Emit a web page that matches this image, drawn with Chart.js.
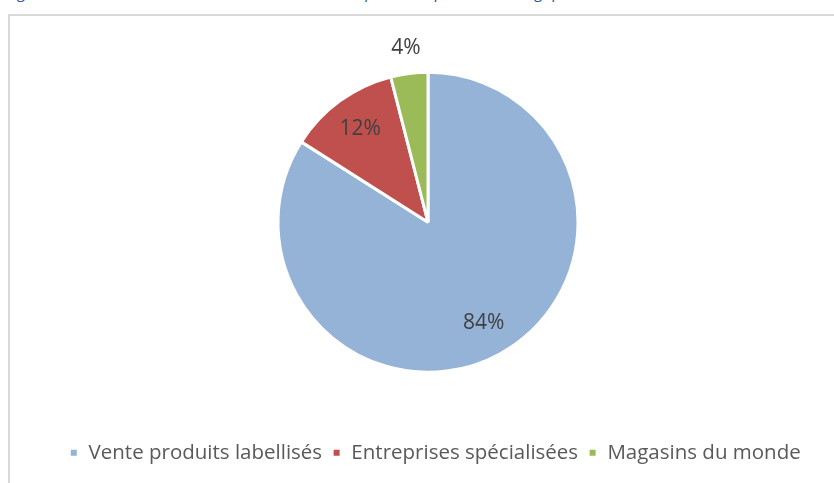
<!DOCTYPE html>
<html><head><meta charset="utf-8">
<script src="https://cdn.jsdelivr.net/npm/chart.js@4.4.1/dist/chart.umd.min.js"></script>
<style>
html,body{margin:0;padding:0;background:#fff;width:834px;height:483px;overflow:hidden;}
#caption{position:absolute;left:6px;top:-19px;font-family:"Open Sans",sans-serif;font-style:italic;font-size:16px;color:#2F5496;white-space:nowrap;}
#frame{position:absolute;left:8px;top:14px;width:900px;height:600px;border-left:2px solid #d9d9d9;border-top:2px solid #d9d9d9;}
#wrap{position:absolute;left:0;top:0;width:834px;height:483px;}
</style></head>
<body>
<div id="caption">Figure 10 : Part de marché des circuits de vente du produit équitable en Belgique en 2010</div>
<div id="frame"></div>
<div id="wrap"><canvas id="c" width="834" height="483"></canvas></div>
<script>
const categories = ["Vente produits labellisés", "Entreprises spécialisées", "Magasins du monde"];
const shares = [84, 12, 4];
const sliceColors = ["#95B3D7", "#C0504D", "#9BBB59"];

const labelPlugin = {
  id: 'pctLabels',
  afterLayout(chart) {
    const lg = chart.legend;
    if (lg && !lg._shifted) {
      const orig = lg.draw.bind(lg);
      lg.draw = function () {
        chart.ctx.save();
        chart.ctx.translate(7, 0);
        orig();
        chart.ctx.restore();
      };
      lg._shifted = true;
    }
  },
  afterDatasetsDraw(chart) {
    const ctx = chart.ctx;
    const meta = chart.getDatasetMeta(0);
    ctx.save();
    ctx.font = '21px "Open Sans", sans-serif';
    ctx.fillStyle = '#404040';
    ctx.textAlign = 'center';
    ctx.textBaseline = 'middle';
    meta.data.forEach((arc, i) => {
      const p = arc.getProps(['x','y','startAngle','endAngle','outerRadius'], true);
      const mid = (p.startAngle + p.endAngle) / 2;
      const r = shares[i] < 5 ? p.outerRadius + 26 : p.outerRadius * 0.77;
      ctx.fillText(shares[i] + '%', p.x + Math.cos(mid) * r, p.y + Math.sin(mid) * r);
    });
    ctx.restore();
  }
};

new Chart(document.getElementById('c'), {
  type: 'pie',
  data: {
    labels: categories,
    datasets: [{
      data: shares,
      backgroundColor: sliceColors,
      borderColor: '#ffffff',
      borderWidth: 3,
      radius: 150
    }]
  },
  options: {
    responsive: false,
    animation: false,
    layout: { padding: { left: 22, right: 0, top: 12, bottom: 10 } },
    plugins: {
      legend: {
        position: 'bottom',
        labels: {
          font: { family: '"Open Sans", sans-serif', size: 20.5 },
          color: '#595959',
          boxWidth: 9, boxHeight: 9,
          padding: 10
        }
      },
      tooltip: { enabled: false }
    }
  },
  plugins: [labelPlugin]
});
</script>
</body></html>
